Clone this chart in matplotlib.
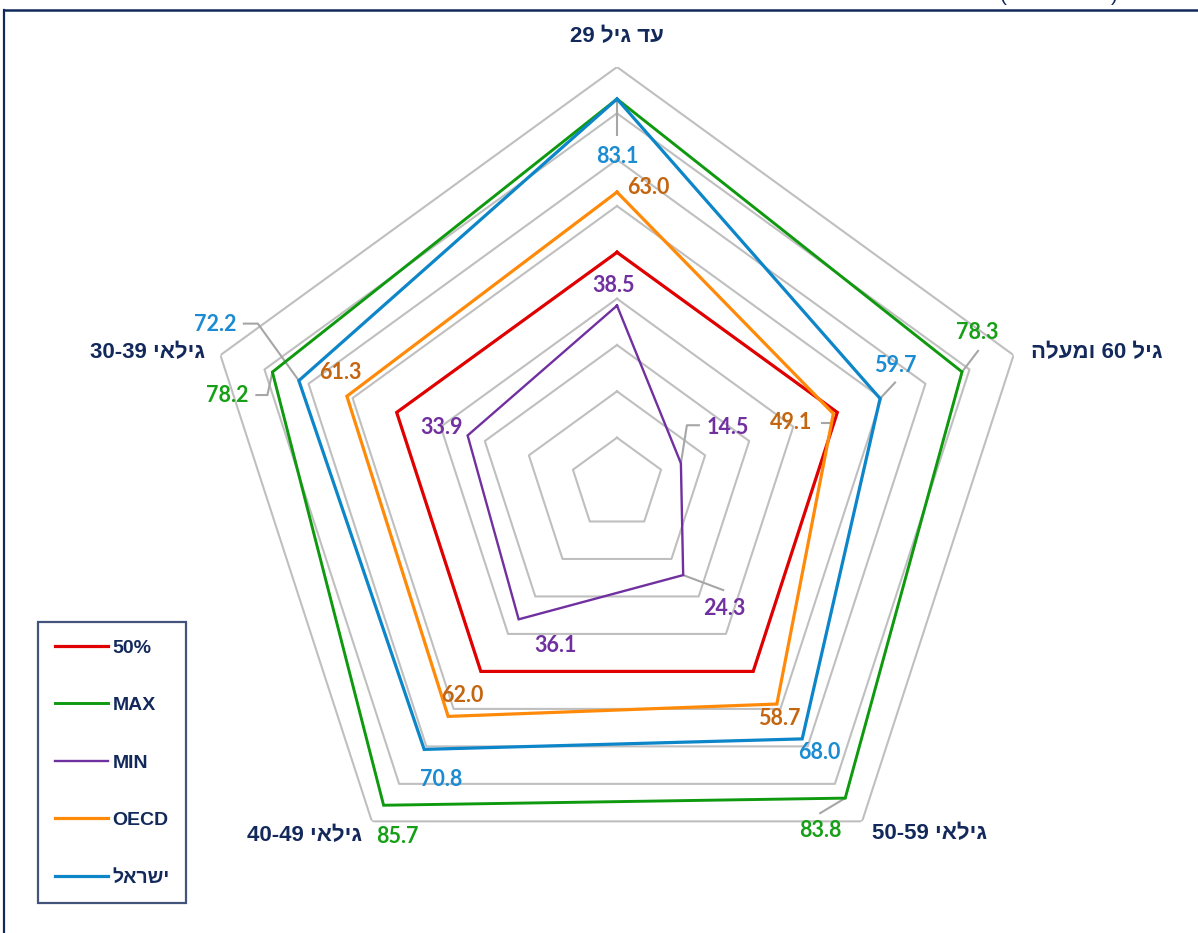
import numpy as np
import matplotlib
matplotlib.use("Agg")
import matplotlib.pyplot as plt
from matplotlib.lines import Line2D
from matplotlib.transforms import IdentityTransform

# ---------------------------------
# Datos
# ---------------------------------
categories = ["עד גיל 29", "גיל 60 ומעלה", "גילאי 50-59", "גילאי 40-49", "גילאי 30-39"]
series_names = ["50%", "MAX", "MIN", "OECD", "ישראל"]
median_vals = [50.0, 50.0, 50.0, 50.0, 50.0]
max_vals = [83.1, 78.3, 83.8, 85.7, 78.2]
min_vals = [38.5, 14.5, 24.3, 36.1, 33.9]
oecd_vals = [63.0, 49.1, 58.7, 62.0, 61.3]
israel_vals = [83.1, 59.7, 68.0, 70.8, 72.2]
ring_levels = [10, 20, 30, 40, 50, 60, 70, 80, 90]

W, H = 1198, 933
NAVY = "#13295B"
GRID = "#BFBFBF"
LEADER = "#A6A6A6"
HEB = ["Liberation Sans", "DejaVu Sans"]
NUM = ["Lato", "DejaVu Sans"]


def rtl(s):
    # matplotlib no hace bidi: invertir orden visual a mano
    out = []
    for t in reversed(s.split(" ")):
        if any("\u0590" <= ch <= "\u05ff" for ch in t):
            out.append(t[::-1])
        else:
            out.append(t)
    return " ".join(out)


# estilo por serie: color línea, color etiqueta, grosor
styles = {
    "50%": ("#E00000", None, 2.3),
    "MAX": ("#0E990E", "#17A017", 2.1),
    "MIN": ("#7030A0", "#7030A0", 1.7),
    "OECD": ("#FF8A0A", "#C4650F", 2.3),
    "ישראל": ("#0C86C8", "#1B8BD2", 2.3),
}
series_vals = {
    "50%": median_vals,
    "MAX": max_vals,
    "MIN": min_vals,
    "OECD": oecd_vals,
    "ישראל": israel_vals,
}
# desplazamiento de etiquetas (px, y hacia abajo)
label_offsets = {
    "50%": [None] * 5,
    "MAX": [None, (15, -39), (-25, 32), (14, 31), (-45, 23)],
    "MIN": [(-3, -20), (47, -36), (41, 33), (37, 26), (-26, -8)],
    "OECD": [(31, -5), (-42, 9), (2, 14), (14, -21), (-7, -24)],
    "ישראל": [(0, 58), (15, -33), (17, 14), (17, 30), (-84, -56)],
}
leaders = [
    ("ישראל", 0, [(0, 0), (0, 36)]),
    ("ישראל", 1, [(0, 0), (15, -16)]),
    ("ישראל", 4, [(0, 0), (-41, -57), (-55, -57)]),
    ("OECD", 1, [(0, 0), (0, 9), (-11, 9)]),
    ("MAX", 1, [(0, 0), (16, -21)]),
    ("MAX", 2, [(0, 0), (-25, 15)]),
    ("MAX", 4, [(0, 0), (-5, 23), (-16, 23)]),
    ("MIN", 1, [(0, 0), (6, -38), (18, -38)]),
    ("MIN", 2, [(0, 0), (40, 15)]),
]
cat_offsets = [(0, -30, "center"), (17, -3, "left"), (10, 12, "left"),
               (-10, 14, "right"), (-15, -3, "right")]

# ---------------------------------
# Figura
# ---------------------------------
fig = plt.figure(figsize=(W / 100, H / 100), dpi=100)
cx, cy, R = 617, 484, 417
ax = fig.add_axes([(cx - R) / W, 1 - (cy + R) / H, 2 * R / W, 2 * R / H], projection="polar")
ax.set_theta_offset(np.pi / 2)
ax.set_theta_direction(-1)
ax.set_ylim(0, 90)
ax.grid(False)
ax.spines["polar"].set_visible(False)
ax.set_xticks([])
ax.set_yticks([])
ax.patch.set_alpha(0)

theta = np.linspace(0, 2 * np.pi, len(categories), endpoint=False)
closed = np.append(theta, theta[0])

for lv in ring_levels:
    ax.plot(closed, [lv] * len(closed), color=GRID, lw=1.5, zorder=1)

handles = []
for name in series_names:
    col, lcol, lw = styles[name]
    vals = series_vals[name]
    (ln,) = ax.plot(closed, vals + vals[:1], color=col, lw=lw, zorder=2,
                    solid_joinstyle="miter")
    handles.append(ln)
    for i, v in enumerate(vals):
        off = label_offsets[name][i]
        if off is None:
            continue
        ax.annotate(f"{v:.1f}", xy=(theta[i], v), xytext=(off[0], -off[1]),
                    textcoords="offset pixels", ha="center", va="center",
                    color=lcol, fontsize=15.5, fontweight="bold", family=NUM, zorder=4)

# líneas guía
for name, i, pts in leaders:
    px, py = ax.transData.transform((theta[i], series_vals[name][i]))
    xs = [px + dx for dx, dy in pts]
    ys = [py - dy for dx, dy in pts]
    ax.add_line(Line2D(xs, ys, transform=IdentityTransform(), color=LEADER,
                       lw=1.5, zorder=1.5, clip_on=False))

# etiquetas de categorías
for i, cat in enumerate(categories):
    dx, dy, ha = cat_offsets[i]
    ax.annotate(rtl(cat), xy=(theta[i], 90), xytext=(dx, -dy), textcoords="offset pixels",
                ha=ha, va="center", color=NAVY, fontsize=16, fontweight="bold",
                family=HEB, annotation_clip=False)

# leyenda
leg = fig.legend(handles, [rtl(n) for n in series_names], loc="lower left",
                 bbox_to_anchor=(38 / W, 30 / H), frameon=True, fancybox=False,
                 handlelength=2.73, handletextpad=0.25, labelspacing=2.05,
                 borderpad=0.85, borderaxespad=0,
                 prop={"family": HEB, "weight": "bold", "size": 14})
leg.get_frame().set_edgecolor(NAVY)
leg.get_frame().set_linewidth(1.6)
for t in leg.get_texts():
    t.set_color(NAVY)

# marco recortado y título cortado arriba
fig.add_artist(Line2D([4 / W, 4 / W], [0, 1 - 10 / H], transform=fig.transFigure, color=NAVY, lw=1.6))
fig.add_artist(Line2D([4 / W, 1], [1 - 10 / H, 1 - 10 / H], transform=fig.transFigure, color=NAVY, lw=1.8))
fig.text(1003 / W, 1 - 5 / H, "(", va="bottom", ha="center", color=NAVY, fontsize=15, family=HEB)
fig.text(1114 / W, 1 - 5 / H, ")", va="bottom", ha="center", color=NAVY, fontsize=15, family=HEB)

fig.savefig("out.png", dpi=100)
